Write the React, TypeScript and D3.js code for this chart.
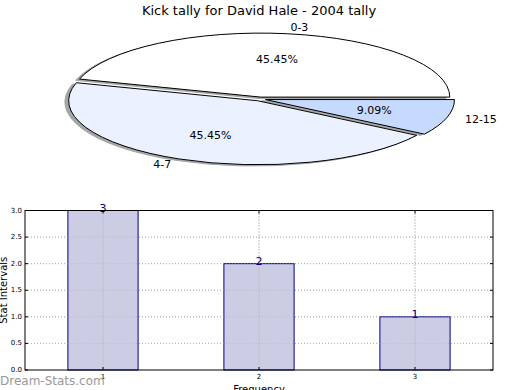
import React from "react";
import * as d3 from "d3";

// pie data
const pieLabels = ["0-3", "4-7", "12-15"];
const pieValues = [5, 5, 1];
const pieColors = ["#ffffff", "#ebf1fe", "#c6d9fe"];

// bar data
const barCats = [1, 2, 3];
const barValues = [3, 2, 1];
const yTicks = [0, 0.5, 1, 1.5, 2, 2.5, 3];

const W = 520;
const H = 390;
const font = "'DejaVu Sans', sans-serif";

// pie geometry (squashed, matplotlib-like)
const cx = 260;
const cy = 99;
const rx = 189;
const ry = 64;
const explode = 0.03;

const ptAt = (a: number, r: number, ox: number, oy: number) => [
  ox + rx * r * Math.sin(a),
  oy - ry * r * Math.cos(a),
];

const Pie = () => {
  const total = d3.sum(pieValues);
  const arcs = d3
    .pie<number>()
    .sort(null)
    .startAngle(Math.PI / 2)
    .endAngle(Math.PI / 2 - 2 * Math.PI)(pieValues);

  const slices = arcs.map((d, i) => {
    const mid = (d.startAngle + d.endAngle) / 2;
    const ox = cx + explode * rx * Math.sin(mid);
    const oy = cy - explode * ry * Math.cos(mid);
    const p0 = ptAt(d.startAngle, 1, ox, oy);
    const p1 = ptAt(d.endAngle, 1, ox, oy);
    const large = Math.abs(d.endAngle - d.startAngle) > Math.PI ? 1 : 0;
    const path = `M${ox},${oy}L${p0[0]},${p0[1]}A${rx},${ry} 0 ${large} 0 ${p1[0]},${p1[1]}Z`;
    const lab = ptAt(mid, 1.1, ox, oy);
    const pct = ptAt(mid, 0.6, ox, oy);
    return {
      path,
      lab,
      pct,
      anchor: lab[0] > ox ? "start" : "end",
      label: pieLabels[i],
      pctText: ((pieValues[i] / total) * 100).toFixed(2) + "%",
      color: pieColors[i],
    };
  });

  return (
    <g>
      {slices.map((s, i) => (
        <path
          key={"sh" + i}
          d={s.path}
          transform={`translate(${-0.02 * rx},${0.02 * ry})`}
          fill="#4d4d4d"
          stroke="#4d4d4d"
          strokeWidth={1}
          opacity={0.5}
        />
      ))}
      {slices.map((s, i) => (
        <path key={"sl" + i} d={s.path} fill={s.color} stroke="#000" strokeWidth={1} />
      ))}
      {slices.map((s, i) => (
        <g key={"lb" + i} fontFamily={font} fontSize={11} fill="#000">
          <text x={s.lab[0]} y={s.lab[1]} textAnchor={s.anchor} dominantBaseline="central">
            {s.label}
          </text>
          <text x={s.pct[0]} y={s.pct[1]} textAnchor="middle" dominantBaseline="central">
            {s.pctText}
          </text>
        </g>
      ))}
    </g>
  );
};

const Bars = () => {
  const left = 25;
  const right = 493;
  const top = 210.5;
  const bottom = 370;
  const x = d3.scaleLinear().domain([0.5, 3.5]).range([left, right]);
  const y = d3.scaleLinear().domain([0, 3]).range([bottom, top]);
  const bw = 0.45;

  return (
    <g fontFamily={font}>
      {/* grid */}
      {yTicks.slice(1, -1).map((t) => (
        <line key={"gy" + t} x1={left} x2={right} y1={y(t)} y2={y(t)} stroke="#b0b0b0" strokeDasharray="1,2" strokeWidth={1} />
      ))}
      {barCats.map((c) => (
        <line key={"gx" + c} x1={x(c)} x2={x(c)} y1={top} y2={bottom} stroke="#b0b0b0" strokeDasharray="1,2" strokeWidth={1} />
      ))}
      {/* bars */}
      {barCats.map((c, i) => (
        <rect
          key={"b" + c}
          x={x(c - bw / 2)}
          y={y(barValues[i])}
          width={x(c + bw / 2) - x(c - bw / 2)}
          height={bottom - y(barValues[i])}
          fill="#ccccE5"
          stroke="#000080"
          strokeWidth={1}
        />
      ))}
      {/* grid lines over bars */}
      {yTicks.slice(1, -1).map((t) => (
        <line key={"go" + t} x1={left} x2={right} y1={y(t)} y2={y(t)} stroke="#b0b0b0" strokeDasharray="1,2" strokeWidth={1} opacity={0.6} />
      ))}
      {barCats.map((c) => (
        <line key={"gxo" + c} x1={x(c)} x2={x(c)} y1={top} y2={bottom} stroke="#a0a0a0" strokeDasharray="1,2" strokeWidth={1} opacity={0.6} />
      ))}
      {barCats.map((c, i) => (
        <text key={"v" + c} x={x(c)} y={y(barValues[i]) + 1} textAnchor="middle" fontSize={11} fill="#000080">
          {barValues[i]}
        </text>
      ))}
      {/* frame */}
      <rect x={left} y={top} width={right - left} height={bottom - top} fill="none" stroke="#000" strokeWidth={1} />
      {/* y ticks */}
      {yTicks.map((t) => (
        <g key={"yt" + t}>
          <line x1={left} x2={left + 3} y1={y(t)} y2={y(t)} stroke="#000" />
          <line x1={right - 3} x2={right} y1={y(t)} y2={y(t)} stroke="#000" />
          <text x={left - 3} y={y(t)} textAnchor="end" dominantBaseline="central" fontSize={7}>
            {t.toFixed(1)}
          </text>
        </g>
      ))}
      {barCats.map((c) => (
        <g key={"xt" + c}>
          <line x1={x(c)} x2={x(c)} y1={bottom} y2={bottom - 3} stroke="#000" />
          <line x1={x(c)} x2={x(c)} y1={top} y2={top + 3} stroke="#000" />
          <text x={x(c)} y={bottom + 9} textAnchor="middle" fontSize={7}>
            {c}
          </text>
        </g>
      ))}
      <text x={(left + right) / 2} y={393} textAnchor="middle" fontSize={10}>
        Frequency
      </text>
      <text transform={`translate(7,${(top + bottom) / 2}) rotate(-90)`} textAnchor="middle" fontSize={10}>
        Stat Intervals
      </text>
      <text x={0} y={385} fontSize={12} fill="#999">
        Dream-Stats.com
      </text>
    </g>
  );
};

const App = () => {
  return (
    <svg
      width={W}
      height={H}
      style={{ position: "absolute", left: 0, top: 0, background: "#fff" }}
    >
      <text x={259} y={15} textAnchor="middle" fontFamily={font} fontSize={13}>
        Kick tally for David Hale - 2004 tally
      </text>
      <Pie />
      <Bars />
    </svg>
  );
};

export default App;
